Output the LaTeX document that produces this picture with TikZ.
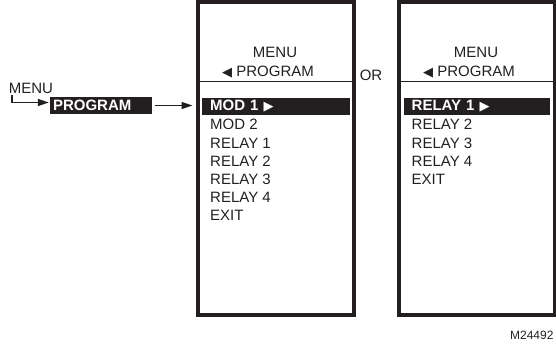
\documentclass[tikz,border=0pt]{standalone}
\usepackage{fontspec}
\setmainfont{Liberation Sans}
\newfontfamily\symfont{DejaVu Sans}
\usepackage{xcolor}
\usetikzlibrary{calc, arrows.meta, positioning}

\definecolor{inkdark}{HTML}{231F20}

\tikzset{
    screen/.style={draw=inkdark, line width=3.5pt, minimum width=156pt,
        minimum height=313pt, inner sep=0pt},
    hilite/.style={fill=inkdark, text=white, font=\fontsize{15}{17}\selectfont\bfseries,
        inner ysep=0pt, minimum height=17pt, align=left},
    item/.style={anchor=west, inner sep=0pt},
    divider/.style={draw=inkdark, line width=0.9pt},
}

\newcommand{\leftTri}{{\symfont\fontsize{13}{13}\selectfont ◀}}
\newcommand{\rightTri}{{\symfont\fontsize{13}{13}\selectfont ▶}}

\begin{document}
\begin{tikzpicture}[x=1pt, y=-1pt, >={Triangle[length=11pt,width=7pt]},
    font=\fontsize{15}{17}\selectfont, inkdark]

    \useasboundingbox (0,0) rectangle (556,345);

    % =================================================================
    % 1. MENU -> PROGRAM
    % =================================================================
    \node (menuTag) at (31,88) {MENU};
    \node[hilite, text width=96pt, inner xsep=3pt] (prog) at (101,105.5) {PROGRAM};
    \coordinate (menuTurn) at (12,95);
    \draw[->, line width=1.2pt, shorten >=1pt] (menuTurn) |- ([yshift=3pt]prog.west);

    % =================================================================
    % 2. HAI MAN HINH
    % =================================================================
    \node[screen] (boxL) at (275.75,158.5) {};
    \node[screen] (boxR) at (477,158.5) {};
    \draw[->, line width=1.2pt, shorten <=3pt, shorten >=3.5pt] (prog) -- (boxL.west |- prog);

    \node (orTag) at (371,75) {OR};

    % tieu de
    \node (menuHL) at (275,52) {MENU};
    \node (progHL) at (268,72) {\leftTri\ PROGRAM};
    \node (menuHR) at (476,52) {MENU};
    \node (progHR) at (469,72) {\leftTri\ PROGRAM};

    \draw[divider] ($(boxL.north west)+(0,81)$) -- ($(boxL.north east)+(0,81)$);
    \draw[divider] ($(boxR.north west)+(0,81)$) -- ($(boxR.north east)+(0,81)$);

    % =================================================================
    % 3. DANH SACH
    % =================================================================
    \node[hilite, text width=132pt, inner xsep=8pt, anchor=west] (modOne) at (202,106.5)
        {MOD 1 \rightTri};
    \foreach \t [count=\i] in {MOD 2, RELAY 1, RELAY 2, RELAY 3, RELAY 4, EXIT}
        \node[item] (itemL\i) at (210,106.5+18.2*\i) {\t};

    \node[hilite, text width=130pt, inner xsep=8pt, anchor=west] (relayOne) at (403.5,106.5)
        {RELAY 1 \rightTri};
    \foreach \t [count=\i] in {RELAY 2, RELAY 3, RELAY 4, EXIT}
        \node[item] (itemR\i) at (411.5,106.5+18.2*\i) {\t};

    \node[anchor=east, font=\fontsize{12}{14}\selectfont] (figId) at (557,335) {M24492};

\end{tikzpicture}
\end{document}
